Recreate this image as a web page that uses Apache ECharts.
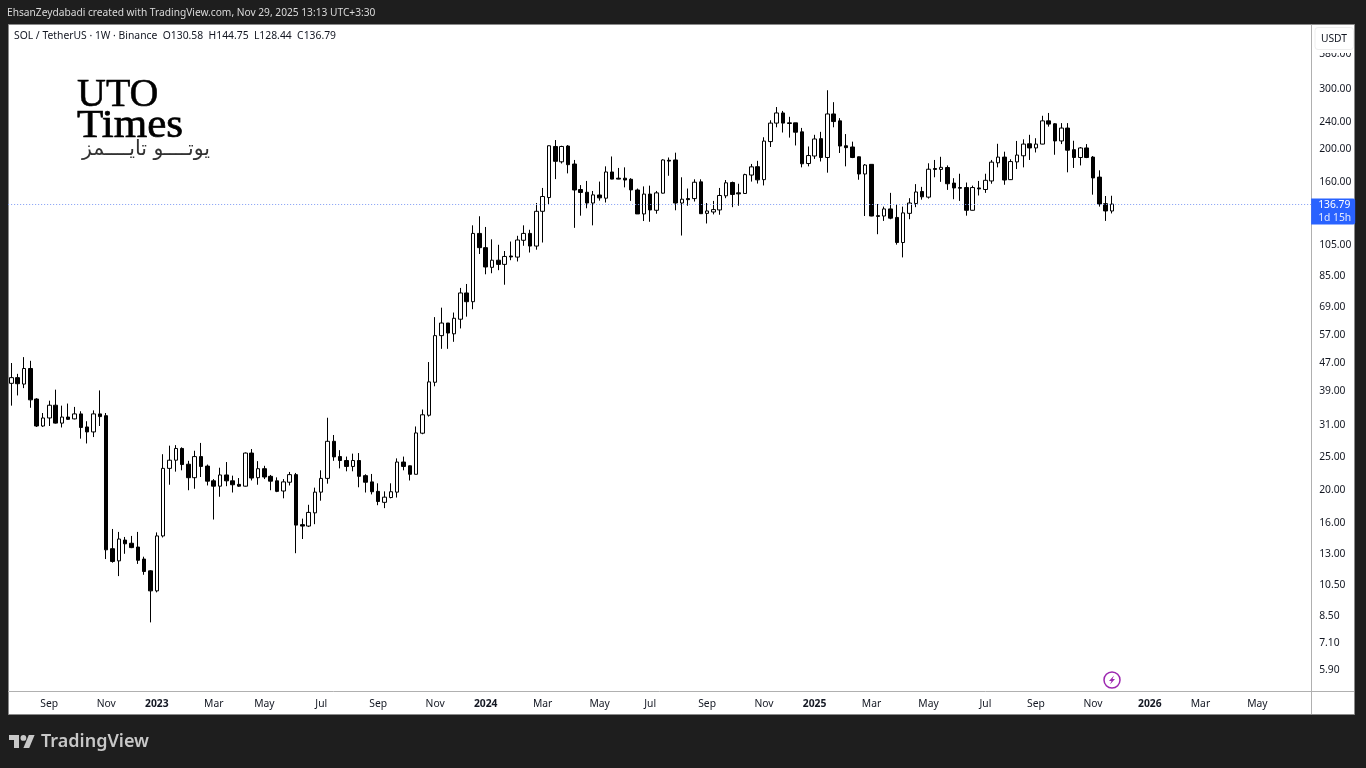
<!DOCTYPE html>
<html>
<head>
<meta charset="utf-8">
<style>html,body{margin:0;padding:0;background:#1e1e1e}#c{width:1366px;height:768px}</style>
<script src="https://cdn.jsdelivr.net/npm/echarts@6/dist/echarts.min.js"></script>
</head>
<body>
<div id="c"></div>
<script>
// SOL / USDT weekly candles, first bar in the week of 25 Jul 2022
const open = [
40.7,42.3,40.5,45.0,36.6,30.5,32.2,35.1,31.1,32.4,
32.0,33.1,30.3,29.3,33.1,32.7,13.3,12.25,14.1,13.8,
13.45,12.4,11.45,10.0,14.5,22.9,24.2,26.2,23.55,21.5,
24.8,23.25,21.05,20.3,21.9,21.05,20.55,20.3,25.4,21.5,
22.85,21.7,21.05,19.65,20.85,21.95,15.65,15.5,16.95,19.5,
21.4,27.5,24.8,24.15,23.2,24.15,21.8,20.9,19.6,18.2,
18.8,19.5,23.9,23.3,22.0,29.05,32.8,41.0,56.2,61.2,
56.9,62.8,75,70.7,112.2,101.9,89.2,93.6,91,96.3,
95.6,107.1,112.2,103,130.3,143,202,182.1,202.6,179.4,
151,148.2,137.8,145.5,142.4,170,163,163,161.8,150.5,
128,146.4,131.2,147.3,184,184.4,137.8,142,142,159,
128.5,129.7,131.5,144.7,158.3,147.6,147,166.5,176.2,161.4,
208.8,236.6,253.4,237,237,223,180,189.4,213,187.5,
251.7,240.2,203,201.3,188.4,167.7,179,126.5,126.2,132.4,
125,105.5,128.5,137.4,149,143.4,174,173,175.2,157.7,
153,153,131.2,152.6,151,160,180.9,188,161.4,182,
189.7,205.7,200,205.3,240.2,235.5,209.7,228.8,197.7,187.5,
200,188,164.2,137.2,130.58];
const high = [
46.7,43.4,48.6,47.4,36.8,33.3,36.2,39.0,35.0,35.5,
34.7,33.7,31.5,33.9,38.8,33.3,15.2,14.9,14.4,14.5,
14.9,12.6,11.5,14.85,25.2,26.7,26.8,26.4,24.1,25.8,
27.2,23.5,21.3,23.0,23.9,21.8,21.45,25.5,26.1,24.05,
23.3,21.9,21.55,21.3,22.35,22.2,16.3,17.9,20.1,22.6,
32.25,28.7,25.9,24.8,25.3,25.4,22.0,22.05,20.7,19.6,
20.7,24.5,24.8,23.35,30.4,34.1,47.0,63.7,67.9,61.2,
65.7,77.6,79.7,118.5,126,117.2,107.8,103.9,99.6,106.2,
110.4,118.5,115,137.8,152.6,203.4,211,203,203.9,184.4,
155.6,160,149.5,159.3,176.6,188.8,174.7,175.4,163,152,
154.2,155,149.5,185.3,187.5,193.7,164,152,161.8,161.8,
137.8,139.8,152.6,161,159.3,157,168,179.5,183.3,215,
241.2,263.8,256.9,246.9,237,229,202,218.6,223,295.5,
272.6,244.7,219.7,208.7,188.8,179.4,179,136.9,134.5,147.6,
136.9,134.5,142.4,156.6,153.7,180.3,184.4,188.4,177.7,163,
168,158.3,155,160,168,184.4,205.7,195,185.3,209.7,
212,218.6,213.6,248.6,253.4,236.6,236.6,236.6,210,201.3,
205.3,189.4,171.9,144.5,144.75];
const low = [
35.0,37.5,39.4,34.5,30.3,30.3,30.5,31.0,30.2,31.8,
31.9,28.0,27.1,28.3,30.5,12.4,12.1,11.05,12.85,13.35,
12.0,11.15,8.08,9.9,14.35,20.5,22.4,22.6,19.75,19.95,
21.6,20.4,16.2,18.9,20.3,19.45,20.2,20.25,21.1,20.5,
21.3,19.75,19.5,18.7,20.4,12.9,14.2,15.4,15.7,18.4,
20.65,24.1,22.9,22.45,22.45,20.15,19.45,19.2,17.85,17.5,
18.7,18.8,22.6,21.1,22.0,28.85,32.5,39.9,51.4,51.4,
53.9,59.0,63.9,67.2,97.6,85.1,85.7,87.5,79.3,93.6,
92.8,103.2,98.6,100.5,105.5,136.5,162,180,168.4,116.5,
126.5,133,118.5,140,138.3,161.8,161.8,153.2,139.8,128,
122,121.4,128.2,147,165.7,131.2,110.6,135.3,139.2,128,
120,127.6,127.3,142.4,134,135.3,146.7,159.3,157.2,155.2,
201.3,230,222,214.5,203.4,175.4,176.6,185.7,182.5,169.2,
230,193.3,176.6,186.7,161.3,126.2,126,111.6,122.1,123.5,
104,95.4,123.5,134,141,142,164,159,150.6,141.4,
139.8,126.5,131,145,147.6,157,175.4,155.9,161,173.4,
175.4,184.4,194,205,231,191,205.3,169.6,174.7,177.7,
186.7,145.8,134.5,122.1,128.44];
const close = [
42.3,40.6,45.0,36.4,30.5,32.2,35.1,31.1,32.4,31.9,
33.1,30.2,29.3,33.1,32.5,13.2,12.2,14.2,13.75,13.4,
12.3,11.4,10.0,14.5,22.9,24.2,26.2,23.5,21.5,24.8,
23.2,21.0,20.3,21.9,21.05,20.5,20.3,25.4,21.45,22.85,
21.6,21.0,19.6,20.9,21.95,15.6,15.5,17.0,19.5,21.4,
27.5,24.75,24.15,23.2,24.15,21.7,20.85,19.55,18.3,18.85,
19.55,23.9,23.2,22.0,29.1,32.9,41.1,56.2,61.2,57.2,
63.2,75,70.7,112.2,101.9,89.4,93.6,91,96,95.7,
107.3,112.2,103,130.3,144,203,182.7,202,178.6,150.5,
148,137.8,145.6,142.7,170,162,162,161,150.6,128,
146.4,131.5,147.6,184.4,183,137.8,141.4,141,158.6,128.2,
130.6,131.8,145,158,146,146.6,167,176,161.2,209.5,
236.6,253.4,236.6,236,222.5,179.7,190,212.5,187.5,251.7,
239.1,202.6,200.4,187.5,167.7,178.2,126.2,125.9,132.4,124.4,
105.5,128.9,137.8,148.5,143.7,173.2,173,175.4,157,152.6,
152.3,131.2,153,151.6,160.7,181.7,188,161,182.4,190.6,
205.3,200,205.3,240.2,235,209.7,228.8,197,187.5,200,
187.5,163.3,136.9,130.6,136.79];

// Price scale labels
const priceTicks = [5.9,7.1,8.5,10.5,13,16,20,25,31,39,47,57,69,85,105,160,200,240,300,380];
const lastPrice = 136.79;

// Time scale: week index of each labelled bar and its text
const timeTickWeeks = [6,15,23,32,40,49,58,67,75,84,93,101,110,119,127,136,145,154,162,171,180,188,197];
const timeTickTexts = ['Sep','Nov','2023','Mar','May','Jul','Sep','Nov','2024','Mar','May','Jul','Sep','Nov','2025','Mar','May','Jul','Sep','Nov','2026','Mar','May'];

const weekCount = 206;
const firstWeek = Date.UTC(2022, 6, 25);
const weeks = [];
for (let i = 0; i < weekCount; i++) {
  weeks.push(new Date(firstWeek + i * 7 * 864e5).toISOString().slice(0, 10));
}
const candles = open.map((o, i) => [o, close[i], low[i], high[i]]);

const uiFont = '"Noto Sans", sans-serif';
const lineGrey = '#b0b0b0';
const chart = echarts.init(document.getElementById('c'), null, {renderer: 'canvas'});
chart.setOption({
  animation: false,
  backgroundColor: '#1e1e1e',
  grid: {left: 8.15, top: 25, width: 1303, height: 666, containLabel: false},
  xAxis: {
    type: 'category',
    data: weeks,
    boundaryGap: true,
    axisLine: {show: true, onZero: false, lineStyle: {color: lineGrey, width: 1}},
    axisTick: {show: false},
    splitLine: {show: false},
    axisLabel: {
      interval: (idx) => timeTickWeeks.includes(idx),
      margin: 8,
      color: '#131722',
      fontFamily: uiFont,
      fontSize: 10.3,
      hideOverlap: false,
      formatter: (v, idx) => {
        const t = timeTickTexts[timeTickWeeks.indexOf(idx)] || '';
        return /^\d/.test(t) ? '{y|' + t + '}' : t;
      },
      rich: {y: {fontFamily: uiFont, fontSize: 10.3, fontWeight: 'bold', color: '#131722'}}
    }
  },
  yAxis: {
    type: 'log',
    position: 'right',
    min: 5.08,
    max: 459.4,
    axisLine: {show: true, onZero: false, lineStyle: {color: lineGrey, width: 1}},
    axisTick: {show: false},
    splitLine: {show: false},
    minorTick: {show: false},
    axisLabel: {
      customValues: priceTicks,
      margin: 8,
      color: '#131722',
      fontFamily: uiFont,
      fontSize: 10.3,
      formatter: (v) => '{p|' + Number(v).toFixed(2) + '}',
      rich: {p: {fontFamily: uiFont, fontSize: 10.3, color: '#131722', padding: [3, 0, 0, 0]}}
    }
  },
  series: [{
    type: 'candlestick',
    data: candles,
    barWidth: 4,
    itemStyle: {color: '#ffffff', color0: '#000000', borderColor: '#000000', borderColor0: '#000000', borderWidth: 1},
    markLine: {
      silent: true,
      symbol: 'none',
      data: [{yAxis: lastPrice}],
      lineStyle: {color: '#7f9cf5', type: [1, 2], width: 1},
      label: {
        position: 'end',
        distance: 0,
        offset: [0, 7.5],
        formatter: lastPrice.toFixed(2) + '\n{c|1d 15h}',
        color: '#ffffff',
        fontFamily: uiFont,
        fontSize: 10.3,
        lineHeight: 13,
        backgroundColor: '#2962ff',
        borderRadius: [0, 2, 2, 0],
        padding: [0, 4, 0, 7],
        rich: {c: {color: '#e3e9ff', fontFamily: uiFont, fontSize: 10.3, lineHeight: 13}}
      }
    }
  }],
  graphic: [
    // Page panel behind the plot
    {type: 'rect', z: -10, shape: {x: 8.5, y: 24.5, width: 1346, height: 690},
      style: {fill: '#ffffff', stroke: '#8a8a8a', lineWidth: 1}},
    // Axis rules continuing into the corner below the price scale
    {type: 'line', z: 5, shape: {x1: 1311, y1: 691.5, x2: 1354, y2: 691.5}, style: {stroke: lineGrey, lineWidth: 1}},
    {type: 'line', z: 5, shape: {x1: 1311.5, y1: 691, x2: 1311.5, y2: 714}, style: {stroke: lineGrey, lineWidth: 1}},
    // Left margin stays dark where the last-price line runs past the panel edge
    {type: 'rect', z: 90, shape: {x: 0, y: 25, width: 8, height: 690}, style: {fill: '#1e1e1e'}},
    // Currency button at the head of the price scale, hiding the top of the 380 label
    {type: 'rect', z: 90, shape: {x: 1312, y: 25, width: 42, height: 28}, style: {fill: '#ffffff'}},
    {type: 'rect', z: 91, shape: {x: 1315, y: 27.5, width: 38.5, height: 22, r: 3},
      style: {fill: '#ffffff', stroke: '#eeeeee', lineWidth: 1}},
    {type: 'text', z: 92, x: 1334, y: 39, style: {text: 'USDT', fill: '#131722', font: '10.3px ' + uiFont, textAlign: 'center', textVerticalAlign: 'middle'}},
    // Top strip
    {type: 'text', z: 92, x: 7, y: 13, style: {text: 'EhsanZeydabadi created with TradingView.com, Nov 29, 2025 13:13 UTC+3:30', fill: '#dadada', font: '10.2px ' + uiFont, textVerticalAlign: 'middle'}},
    // Symbol line
    {type: 'text', z: 92, x: 14, y: 36.5, style: {text: 'SOL / TetherUS · 1W · Binance  O130.58  H144.75  L128.44  C136.79', fill: '#131722', font: '10.35px ' + uiFont, textVerticalAlign: 'middle'}},
    // Publisher mark
    {type: 'text', z: 92, x: 77, y: 95, style: {text: 'UTO', fill: '#000000', stroke: '#000000', lineWidth: 0.5, font: '40px "Liberation Serif", serif', textVerticalAlign: 'middle'}},
    {type: 'text', z: 92, x: 77, y: 126, scaleX: 1.05, style: {text: 'Times', fill: '#000000', stroke: '#000000', lineWidth: 0.7, font: '41px "Liberation Serif", serif', textVerticalAlign: 'middle'}},
    {type: 'text', z: 92, x: 210, y: 150, style: {text: 'يوتــــو تايــــمز', fill: '#333333', font: '20.5px "DejaVu Sans", sans-serif', textAlign: 'right', textVerticalAlign: 'middle'}},
    // Event marker on the time scale
    {type: 'circle', z: 92, shape: {cx: 1112, cy: 680, r: 8}, style: {fill: '#ffffff', stroke: '#9c27b0', lineWidth: 1.5}},
    {type: 'polygon', z: 93, shape: {points: [[1114,675.5],[1109,681],[1111.5,681],[1110,684.5],[1115,679],[1112.5,679]]}, style: {fill: '#9c27b0'}},
    // Brand line at the foot
    {type: 'polygon', z: 92, shape: {points: [[19,748],[14,748],[14,740],[9,740],[9,735],[19,735]]}, style: {fill: '#c8c8c8'}},
    {type: 'polygon', z: 92, shape: {points: [[29.2,748],[23.4,748],[28.8,735],[34.6,735]]}, style: {fill: '#c8c8c8'}},
    {type: 'circle', z: 92, shape: {cx: 23.4, cy: 737.9, r: 2.9}, style: {fill: '#c8c8c8'}},
    {type: 'text', z: 92, x: 41, y: 741.5, style: {text: 'TradingView', fill: '#c8c8c8', font: '600 18px ' + uiFont, textVerticalAlign: 'middle'}}
  ]
});
</script>
</body>
</html>
